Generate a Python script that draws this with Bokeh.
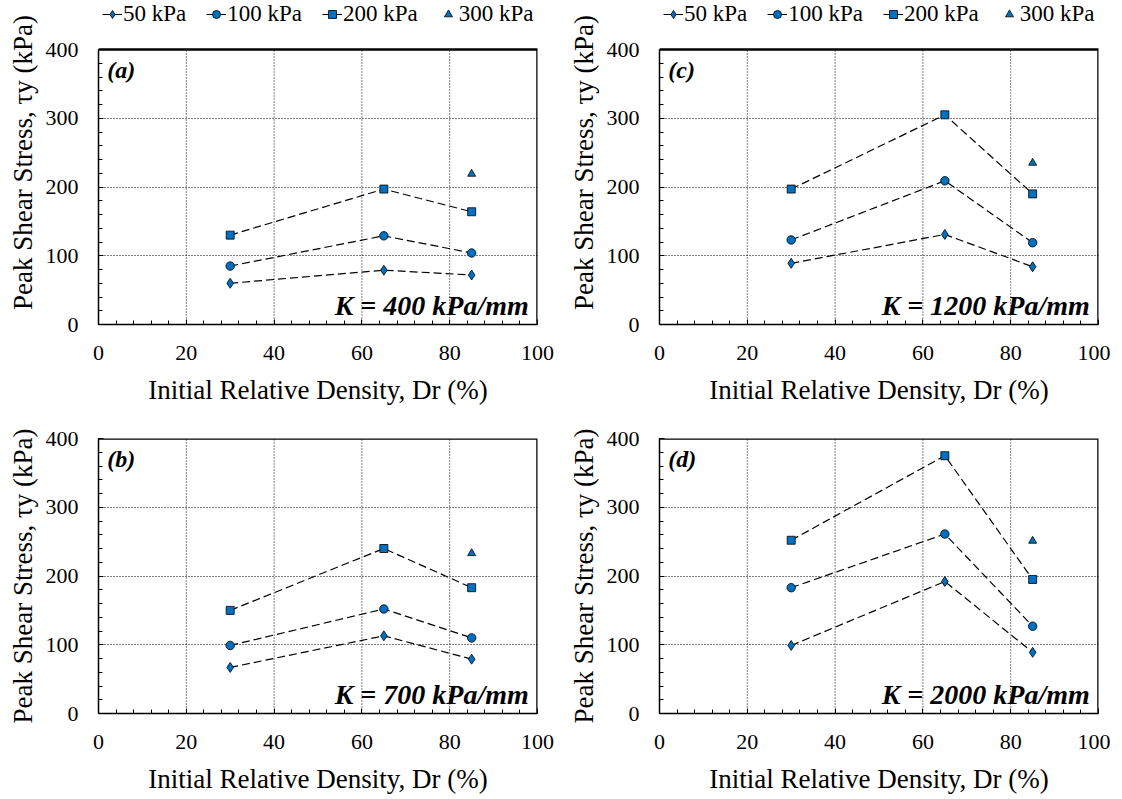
from bokeh.plotting import figure
from bokeh.models import Range1d, SingleIntervalTicker, Legend, LegendItem, Label
from bokeh.layouts import column, row
from bokeh.embed import file_html
from bokeh.resources import INLINE

# ---------------- data ----------------
dr = [30, 65, 85]            # initial relative density (%)
dr_300 = [85]
series_labels = ["50 kPa", "100 kPa", "200 kPa", "300 kPa"]
x_ticks = [0, 20, 40, 60, 80, 100]
y_ticks = [0, 100, 200, 300, 400]

# (a) K = 400 kPa/mm
a_50 = [60, 79, 72]
a_100 = [85, 129, 104]
a_200 = [130, 197, 164]
a_300 = [219]
# (b) K = 700 kPa/mm
b_50 = [67, 113, 79]
b_100 = [99, 152, 110]
b_200 = [150, 240, 183]
b_300 = [233]
# (c) K = 1200 kPa/mm
c_50 = [89, 131, 84]
c_100 = [123, 209, 119]
c_200 = [197, 305, 190]
c_300 = [235]
# (d) K = 2000 kPa/mm
d_50 = [99, 192, 89]
d_100 = [183, 261, 127]
d_200 = [252, 375, 195]
d_300 = [251]

FONT = "Liberation Serif"
BLUE = "#0070C0"
PLOT_H = 275          # pixel height of the plotting box (0..400 kPa)
LEGEND_ROOM = 49      # extra pixels above the box (top row) that hold the legend


def make_panel(tag, k_text, s50, s100, s200, s300, mb_left, mb_right, mb_top, mb_bottom, with_legend):
    y0, y1 = y_ticks[0], y_ticks[-1]
    x0, x1 = x_ticks[0], x_ticks[-1]
    extra = LEGEND_ROOM if with_legend else 0
    y_end = y1 * (PLOT_H + extra) / PLOT_H
    p = figure(frame_width=439, frame_height=PLOT_H + extra,
               x_range=Range1d(x0, x1), y_range=Range1d(y0, y_end),
               output_backend="svg", toolbar_location=None,
               min_border_left=mb_left, min_border_right=mb_right,
               min_border_top=mb_top, min_border_bottom=mb_bottom,
               background_fill_color="white", border_fill_color="white",
               outline_line_color=None)
    p.xaxis.ticker = SingleIntervalTicker(interval=x_ticks[1] - x_ticks[0], num_minor_ticks=5)
    p.yaxis.ticker = SingleIntervalTicker(interval=y_ticks[1] - y_ticks[0], num_minor_ticks=5)
    p.yaxis.bounds = (y0, y1)
    p.xaxis.axis_label = "Initial Relative Density, Dr (%)"
    p.yaxis.axis_label = "Peak Shear Stress, \u03c4y (kPa)"
    for ax in (p.xaxis[0], p.yaxis[0]):
        ax.major_tick_in = 5
        ax.major_tick_out = 0
        ax.minor_tick_in = 4
        ax.minor_tick_out = 0
        ax.axis_line_color = "black"
        ax.axis_line_width = 1.5
        ax.major_tick_line_color = "black"
        ax.minor_tick_line_color = "black"
        ax.major_label_text_font = FONT
        ax.major_label_text_font_size = "22px"
        ax.major_label_text_color = "black"
        ax.axis_label_text_font = FONT
        ax.axis_label_text_font_size = "27px"
        ax.axis_label_text_font_style = "normal"
        ax.axis_label_text_color = "black"
    p.xaxis.major_label_standoff = 21
    p.yaxis.major_label_standoff = 20
    p.xaxis.axis_label_standoff = 12
    p.yaxis.axis_label_standoff = 5

    # horizontal grid from the axis ticker, vertical grid drawn only inside the 0..400 box
    p.ygrid.grid_line_color = "black"
    p.ygrid.grid_line_dash = "1 2"
    p.ygrid.grid_line_width = 1
    p.xgrid.grid_line_color = None
    inner = x_ticks[1:-1]
    p.segment(x0=inner, y0=[y0] * len(inner), x1=inner, y1=[y1] * len(inner),
              line_color="black", line_dash="1 2", line_width=1)
    # box outline (top and right edges; left/bottom are the axis lines)
    p.line([x0, x1, x1], [y1, y1, y0], line_color="black", line_width=2.5)

    l50 = p.line(dr, s50, line_color="black", line_dash="8 4", line_width=1.2)
    l100 = p.line(dr, s100, line_color="black", line_dash="8 4", line_width=1.2)
    l200 = p.line(dr, s200, line_color="black", line_dash="8 4", line_width=1.2)
    r50 = p.scatter(dr, s50, marker="diamond", size=10, fill_color=BLUE, line_color="black", line_width=0.8)
    r100 = p.scatter(dr, s100, marker="circle", size=8.5, fill_color=BLUE, line_color="black", line_width=0.8)
    r200 = p.scatter(dr, s200, marker="square", size=8, fill_color=BLUE, line_color="black", line_width=0.8)
    r300 = p.scatter(dr_300, s300, marker="triangle", size=8, fill_color=BLUE, line_color="black", line_width=0.8)

    p.add_layout(Label(x=2, y=389, text=tag, text_font=FONT, text_font_style="bold italic",
                       text_font_size="24px", text_baseline="top", text_align="left", text_color="black"))
    p.add_layout(Label(x=98, y=28, text=k_text, text_font=FONT, text_font_style="bold italic",
                       text_font_size="28px", text_baseline="alphabetic", text_align="right", text_color="black"))

    if with_legend:
        items = [LegendItem(label=series_labels[0], renderers=[l50, r50]),
                 LegendItem(label=series_labels[1], renderers=[l100, r100]),
                 LegendItem(label=series_labels[2], renderers=[l200, r200]),
                 LegendItem(label=series_labels[3], renderers=[r300])]
        legend = Legend(items=items, orientation="horizontal", location=(4, PLOT_H + 22),
                        label_text_font=FONT, label_text_font_size="23px", label_text_color="black",
                        glyph_width=20, glyph_height=20, label_height=22, label_standoff=1, spacing=20,
                        padding=0, margin=0, border_line_alpha=0, background_fill_alpha=0)
        p.add_layout(legend, "center")
    return p


fa = make_panel("(a)", "K = 400 kPa/mm", a_50, a_100, a_200, a_300, 98, 22, 0, 94, True)
fc = make_panel("(c)", "K = 1200 kPa/mm", c_50, c_100, c_200, c_300, 100, 12, 0, 94, True)
fb = make_panel("(b)", "K = 700 kPa/mm", b_50, b_100, b_200, b_300, 98, 22, 20, 70, False)
fd = make_panel("(d)", "K = 2000 kPa/mm", d_50, d_100, d_200, d_300, 100, 12, 20, 70, False)

layout = column(row(fa, fc), row(fb, fd))
open("out.html", "w").write(file_html(layout, INLINE, title="Peak shear stress vs relative density"))
